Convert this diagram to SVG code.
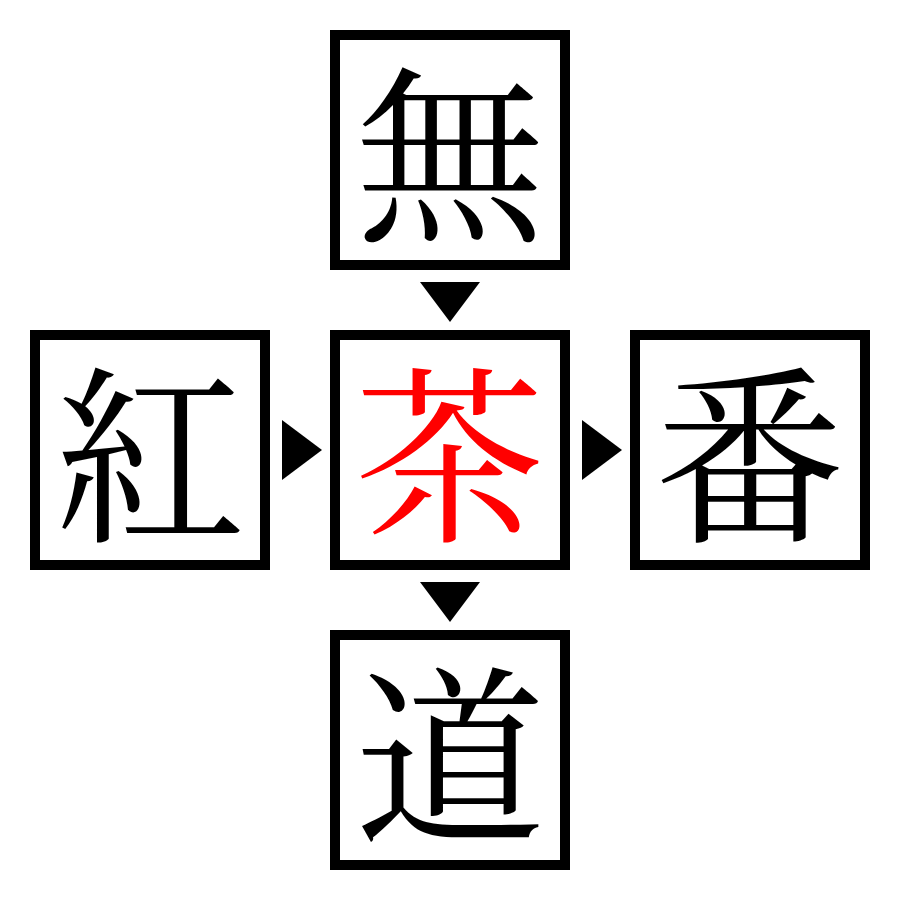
<svg xmlns="http://www.w3.org/2000/svg" width="900" height="900" viewBox="0 0 900 900">
<style>
.box{fill:#fff;stroke:#000;stroke-width:10}
.t{font-family:"Noto Serif CJK JP","Noto Sans CJK JP",serif;font-size:190px;text-anchor:middle;dominant-baseline:central;fill:#000}
.arr{fill:#000}
</style>
<rect width="900" height="900" fill="#fff"/>
<g id="n-mu"><rect class="box" x="335" y="35" width="230" height="230"/><text class="t" x="450" y="144">無</text></g>
<g id="n-ko"><rect class="box" x="35" y="335" width="230" height="230"/><text class="t" x="150" y="444">紅</text></g>
<g id="n-cha"><rect class="box" x="335" y="335" width="230" height="230"/><text class="t" x="450" y="444" style="fill:#f00">茶</text></g>
<g id="n-ban"><rect class="box" x="635" y="335" width="230" height="230"/><text class="t" x="750" y="444">番</text></g>
<g id="n-do"><rect class="box" x="335" y="635" width="230" height="230"/><text class="t" x="450" y="744">道</text></g>
<g id="connectors">
<polygon class="arr" points="420,282 480,282 450,322"/>
<polygon class="arr" points="282,420 282,480 322,450"/>
<polygon class="arr" points="582,420 582,480 622,450"/>
<polygon class="arr" points="420,582 480,582 450,622"/>
</g>
</svg>
